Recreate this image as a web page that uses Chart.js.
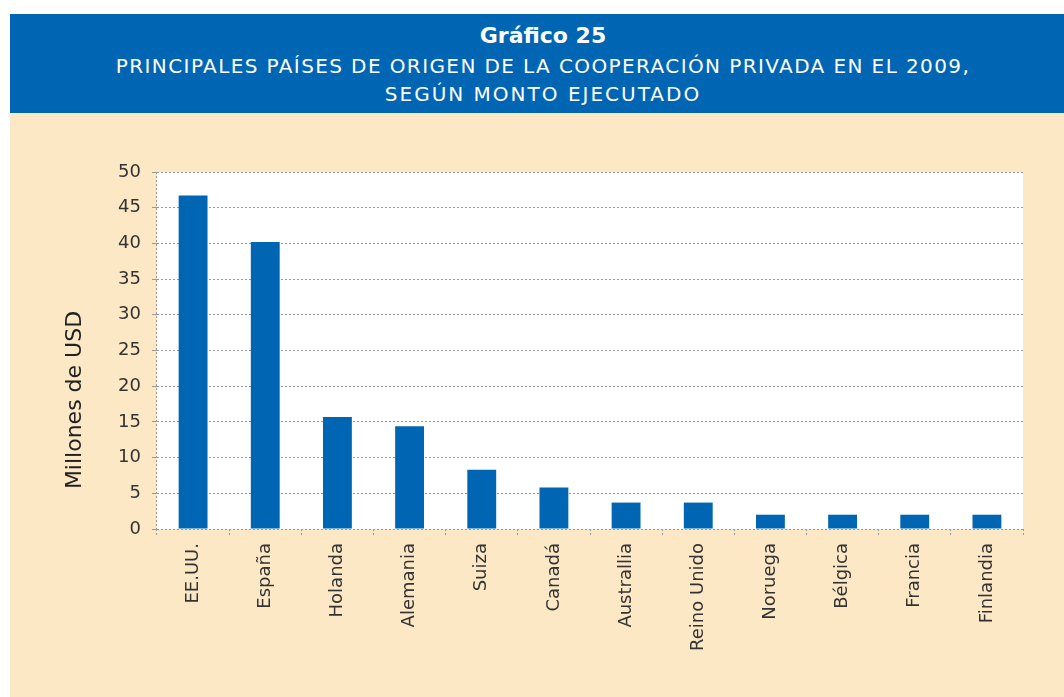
<!DOCTYPE html>
<html>
<head>
<meta charset="utf-8">
<script src="https://cdn.jsdelivr.net/npm/chart.js@4/dist/chart.umd.min.js"></script>
<style>
  body { margin: 0; background: #fff; width: 1064px; height: 697px; overflow: hidden; position: relative; }
  #header { position: absolute; left: 10px; top: 14px; width: 1054px; height: 99px; background: #0066b3; color: #fff;
            font-family: "DejaVu Sans", sans-serif; }
  #header div { position: absolute; left: 6px; width: 100%; text-align: center; line-height: 28px; }
  #t1 { top: 8px; font-size: 22px; font-weight: bold; }
  #t2 { top: 38px; font-size: 20px; letter-spacing: 1.4px; }
  #t3 { top: 66px; font-size: 20px; letter-spacing: 2px; }
  #wrap { position: absolute; left: 10px; top: 113px; width: 1054px; height: 584px; background: #fde8c6; }
</style>
</head>
<body>
<div id="header">
  <div id="t1">Gráfico 25</div>
  <div id="t2">PRINCIPALES PAÍSES DE ORIGEN DE LA COOPERACIÓN PRIVADA EN EL 2009,</div>
  <div id="t3">SEGÚN MONTO EJECUTADO</div>
</div>
<div id="wrap"><canvas id="chart"></canvas></div>
<script>
const countries = ['EE.UU.', 'España', 'Holanda', 'Alemania', 'Suiza', 'Canadá', 'Australlia', 'Reino Unido', 'Noruega', 'Bélgica', 'Francia', 'Finlandia'];
const amounts = [46.7, 40.2, 15.7, 14.4, 8.3, 5.8, 3.7, 3.7, 2.0, 2.0, 2.0, 2.0];
const yTitle = 'Millones de USD';

const plotBackground = {
    id: 'plotBackground',
    beforeDraw(chart) {
        const { ctx, chartArea: a } = chart;
        ctx.save();
        ctx.fillStyle = '#ffffff';
        ctx.fillRect(a.left, a.top, a.right - a.left, a.bottom - a.top);
        ctx.restore();
    }
};

// axis title sits lower than the plot centre in the original
const sideTitle = {
    id: 'sideTitle',
    afterDraw(chart) {
        const ctx = chart.ctx;
        ctx.save();
        ctx.translate(65, 287);
        ctx.rotate(-Math.PI / 2);
        ctx.fillStyle = '#222';
        ctx.font = '22px "DejaVu Sans"';
        ctx.textAlign = 'center';
        ctx.textBaseline = 'middle';
        ctx.fillText(yTitle, 0, 0);
        ctx.restore();
    }
};

new Chart(document.getElementById('chart'), {
    type: 'bar',
    data: {
        labels: countries,
        datasets: [{
            data: amounts,
            backgroundColor: '#0066b3',
            barPercentage: 0.4,
            categoryPercentage: 1.0
        }]
    },
    options: {
        responsive: true,
        maintainAspectRatio: false,
        animation: false,
        layout: { padding: { top: 59, right: 41, left: 0, bottom: 0 } },
        plugins: { legend: { display: false }, tooltip: { enabled: false } },
        scales: {
            x: {
                offset: true,
                afterFit(scale) { scale.height = 168; },
                border: { display: false, dash: [2, 2] },
                grid: {
                    offset: true,
                    drawOnChartArea: true,
                    color: ctx => ctx.index === 0 ? '#9a9a9a' : 'rgba(0,0,0,0)',
                    tickColor: '#9a9a9a',
                    tickLength: 6,
                    tickBorderDash: [2, 2]
                },
                ticks: {
                    minRotation: 90,
                    maxRotation: 90,
                    padding: 8,
                    color: '#333',
                    font: { family: 'DejaVu Sans', size: 18, weight: 'normal' }
                }
            },
            y: {
                min: 0,
                max: 50,
                afterFit(scale) { scale.width = 147; },
                border: { display: false, dash: [2, 2] },
                grid: {
                    color: '#9a9a9a',
                    tickColor: '#9a9a9a',
                    tickLength: 5
                },
                ticks: {
                    stepSize: 5,
                    padding: 11,
                    color: '#333',
                    font: { family: 'DejaVu Sans', size: 18 }
                }
            }
        }
    },
    plugins: [plotBackground, sideTitle]
});
</script>
</body>
</html>
